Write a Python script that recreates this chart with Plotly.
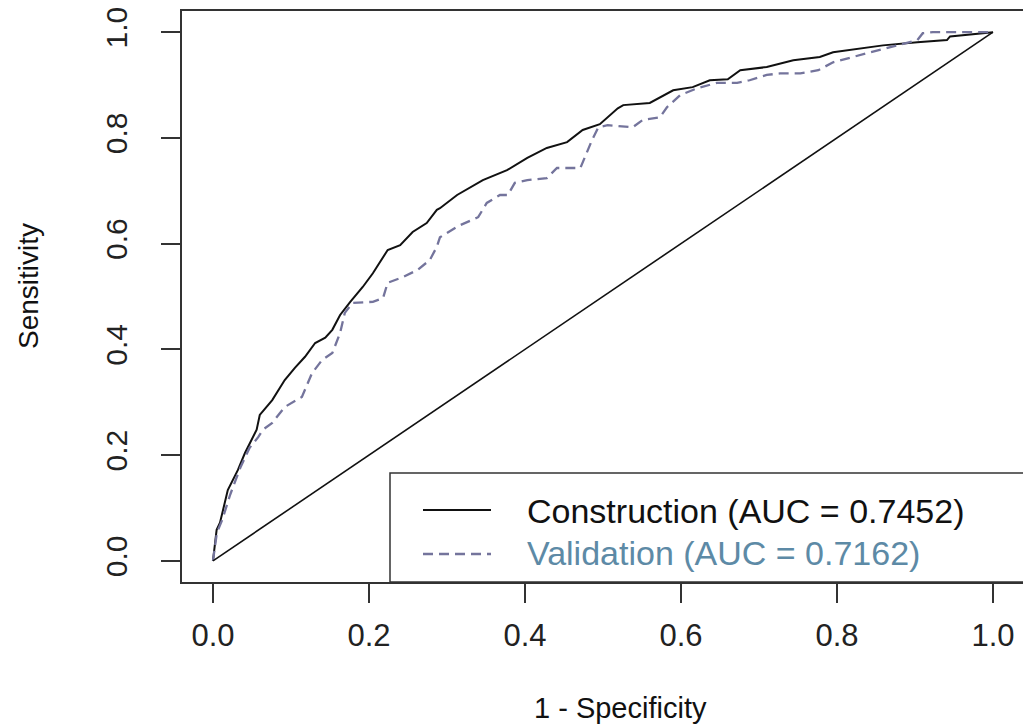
import plotly.graph_objects as go

# Construction ROC curve (1 - specificity, sensitivity)
constr_fpr = [0, 0.0047, 0.009, 0.019, 0.032, 0.041, 0.056, 0.060, 0.076, 0.092, 0.105, 0.118,
              0.131, 0.144, 0.153, 0.163, 0.176, 0.192, 0.205, 0.224, 0.240, 0.256, 0.274, 0.287,
              0.291, 0.313, 0.346, 0.377, 0.403, 0.428, 0.454, 0.474, 0.496, 0.519, 0.526, 0.560,
              0.590, 0.615, 0.637, 0.660, 0.676, 0.710, 0.744, 0.778, 0.795, 0.859, 0.903, 0.941,
              0.945, 0.974, 1.0]
constr_tpr = [0, 0.0586, 0.072, 0.134, 0.172, 0.204, 0.248, 0.276, 0.304, 0.342, 0.365, 0.386,
              0.412, 0.422, 0.437, 0.465, 0.490, 0.518, 0.544, 0.588, 0.597, 0.622, 0.639, 0.664,
              0.667, 0.692, 0.720, 0.739, 0.762, 0.781, 0.792, 0.815, 0.826, 0.856, 0.862, 0.866,
              0.890, 0.896, 0.909, 0.911, 0.928, 0.934, 0.947, 0.953, 0.962, 0.975, 0.981, 0.985,
              0.992, 0.996, 1.0]

# Validation ROC curve
valid_fpr = [0, 0.005, 0.012, 0.022, 0.035, 0.047, 0.058, 0.064, 0.076, 0.092, 0.114, 0.127,
             0.140, 0.153, 0.163, 0.169, 0.179, 0.205, 0.218, 0.224, 0.244, 0.262, 0.278, 0.287,
             0.291, 0.314, 0.340, 0.351, 0.368, 0.378, 0.387, 0.403, 0.428, 0.441, 0.471, 0.477,
             0.486, 0.494, 0.506, 0.538, 0.551, 0.573, 0.582, 0.599, 0.621, 0.646, 0.672, 0.688,
             0.710, 0.727, 0.753, 0.776, 0.795, 0.838, 0.868, 0.903, 0.910, 0.923, 1.0]
valid_tpr = [0, 0.053, 0.078, 0.125, 0.176, 0.214, 0.234, 0.248, 0.261, 0.291, 0.310, 0.355,
             0.380, 0.393, 0.431, 0.469, 0.488, 0.490, 0.497, 0.526, 0.537, 0.550, 0.569, 0.594,
             0.612, 0.633, 0.650, 0.677, 0.692, 0.692, 0.715, 0.720, 0.724, 0.743, 0.743, 0.764,
             0.796, 0.820, 0.824, 0.820, 0.834, 0.839, 0.858, 0.881, 0.894, 0.904, 0.904, 0.909,
             0.919, 0.922, 0.922, 0.928, 0.943, 0.960, 0.972, 0.985, 0.998, 1.0, 1.0]

diag_x = [0, 1]
diag_y = [0, 1]

tick_vals = [0.0, 0.2, 0.4, 0.6, 0.8, 1.0]
tick_text = ["0.0", "0.2", "0.4", "0.6", "0.8", "1.0"]

legend_labels = ["Construction (AUC = 0.7452)", "Validation (AUC = 0.7162)"]

FONT = "Liberation Sans, Arial, sans-serif"
SOLID = "#111111"
DASHC = "#74749c"
VTEXT = "#5d8aa6"

fig = go.Figure()
fig.add_trace(go.Scatter(x=constr_fpr, y=constr_tpr, mode="lines",
                         line=dict(color=SOLID, width=2), name=legend_labels[0]))
fig.add_trace(go.Scatter(x=valid_fpr, y=valid_tpr, mode="lines",
                         line=dict(color=DASHC, width=2.3, dash="10px,6px"), name=legend_labels[1]))
fig.add_trace(go.Scatter(x=diag_x, y=diag_y, mode="lines",
                         line=dict(color=SOLID, width=1.6), showlegend=False))

W, H = 1023, 727
L, R, T, B = 182, 0, 11, 145
pw, ph = W - L - R, H - T - B

def px(xpix):
    return (xpix - L) / pw

def py(ypix):
    return (H - B - ypix) / ph

fig.update_layout(
    width=W, height=H,
    margin=dict(l=L, r=R, t=T, b=B),
    paper_bgcolor="white", plot_bgcolor="white",
    showlegend=False,
    font=dict(family=FONT, color="#222222"),
    xaxis=dict(range=[-0.0397, 1.0385], tickvals=tick_vals, ticktext=tick_text,
               showgrid=False, zeroline=False, showline=True, mirror=True,
               linecolor="#333333", linewidth=1.5, ticks="outside", ticklen=19,
               tickwidth=1.5, tickcolor="#333333", tickfont=dict(size=31, family=FONT),
               ticklabelstandoff=6),
    yaxis=dict(range=[-0.04, 1.04], tickvals=tick_vals, ticktext=tick_text,
               showgrid=False, zeroline=False, showline=True, mirror=False,
               linecolor="#333333", linewidth=1.5, ticks="outside", ticklen=19,
               tickwidth=1.5, tickcolor="#333333", tickfont=dict(size=30, family=FONT),
               tickangle=-90, ticklabelstandoff=22),
)

# axis titles
fig.add_annotation(text="1 - Specificity", xref="paper", yref="paper",
                   x=px(620), y=py(726), showarrow=False,
                   xanchor="center", yanchor="bottom",
                   font=dict(size=29, family=FONT, color="#111111"))
fig.add_annotation(text="Sensitivity", xref="paper", yref="paper",
                   x=px(28), y=py(286), showarrow=False, textangle=-90,
                   xanchor="center", yanchor="middle",
                   font=dict(size=28, family=FONT, color="#111111"))

# legend box
fig.add_shape(type="rect", xref="paper", yref="paper",
              x0=px(390), x1=px(1030), y0=0, y1=py(473),
              line=dict(color="#333333", width=1.5), fillcolor="white", layer="above")
fig.add_shape(type="line", xref="paper", yref="paper",
              x0=px(423), x1=px(491), y0=py(510), y1=py(510),
              line=dict(color=SOLID, width=2))
fig.add_shape(type="line", xref="paper", yref="paper",
              x0=px(423), x1=px(491), y0=py(554), y1=py(554),
              line=dict(color=DASHC, width=2.3, dash="10px,6px"))
fig.add_annotation(text=legend_labels[0], xref="paper", yref="paper",
                   x=px(525), y=py(511), showarrow=False, xanchor="left", yanchor="middle",
                   font=dict(size=34, family=FONT, color="#111111"))
fig.add_annotation(text=legend_labels[1], xref="paper", yref="paper",
                   x=px(525), y=py(553), showarrow=False, xanchor="left", yanchor="middle",
                   font=dict(size=34, family=FONT, color=VTEXT))

fig.write_html("out.html")
